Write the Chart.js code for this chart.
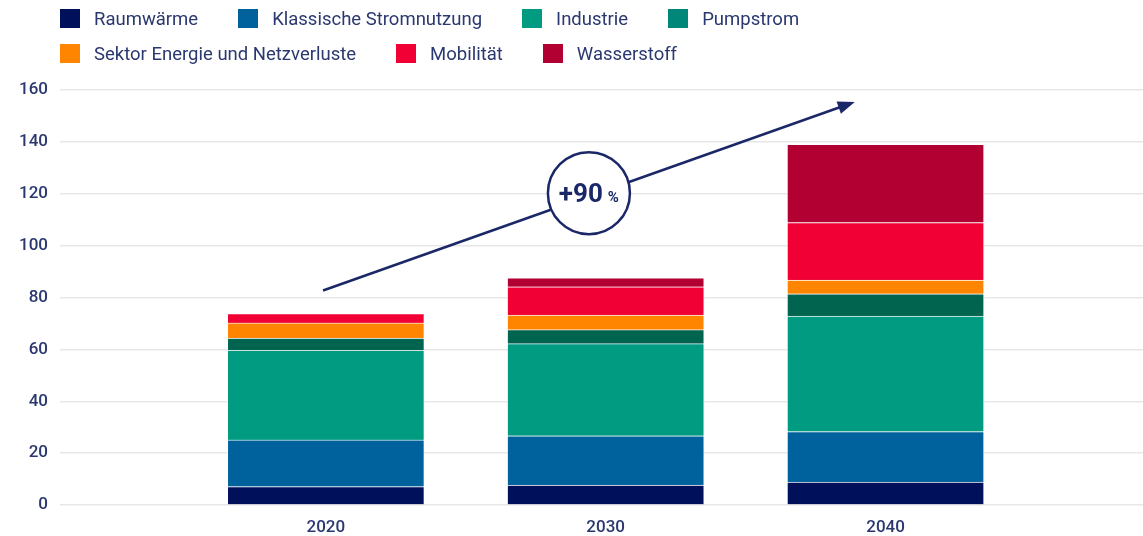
<!DOCTYPE html>
<html lang="de">
<head>
<meta charset="utf-8">
<title>Stromverbrauch nach Sektoren</title>
<script src="https://cdn.jsdelivr.net/npm/chart.js@4.4.1/dist/chart.umd.min.js"></script>
<style>
    html, body { margin: 0; padding: 0; background: #ffffff; }
    #wrap { position: relative; width: 1143px; height: 536px; overflow: hidden; }
    #chart { position: absolute; left: 0; top: 0; }
    #legend {
        position: absolute; left: 60px; top: 1px; width: 800px;
        display: flex; flex-wrap: wrap;
        font-family: Roboto, "Noto Sans", sans-serif; font-size: 18.5px; color: #2b3870;
    }
    .legend-item { display: flex; align-items: center; height: 35px; margin-right: 40px; white-space: nowrap; }
    .legend-box { width: 20px; height: 19px; margin-right: 14px; }
</style>
</head>
<body>
<div id="wrap">
    <canvas id="chart" width="1143" height="536"></canvas>
    <div id="legend"></div>
</div>
<script>
// Werte in TWh
const years = [2020, 2030, 2040];
const raumwaerme = [7.1, 7.7, 8.8];
const klassisch = [18.0, 19.0, 19.5];
const industrie = [34.5, 35.5, 44.5];
const pumpstrom = [4.8, 5.4, 8.6];
const sektorEnergie = [5.8, 5.6, 5.3];
const mobilitaet = [3.6, 10.9, 22.2];
const wasserstoff = [0, 3.5, 30.2];

const seriesNames = ['Raumwärme', 'Klassische Stromnutzung', 'Industrie', 'Pumpstrom',
    'Sektor Energie und Netzverluste', 'Mobilität', 'Wasserstoff'];
const seriesValues = [raumwaerme, klassisch, industrie, pumpstrom, sektorEnergie, mobilitaet, wasserstoff];

// Pfeil und Kreis "+90 %" in Achsenwerten (Jahr, TWh)
const arrowFrom = [2019.9, 82.7];
const arrowTo = [2038.9, 155.4];
const badgeAt = [2029.4, 120.2];
const badgeText = ['+90', '%'];

const barColors = ['#00105a', '#00629c', '#009b80', '#00644f', '#ff8500', '#f00034', '#b20032'];
const legendColors = ['#00105a', '#00629c', '#009b80', '#00877a', '#ff8500', '#f00034', '#b20032'];
const textColor = '#2b3870';
const navy = '#1b2868';

// HTML legend
const legendEl = document.getElementById('legend');
seriesNames.forEach((name, i) => {
    const item = document.createElement('div');
    item.className = 'legend-item';
    const box = document.createElement('span');
    box.className = 'legend-box';
    box.style.background = legendColors[i];
    const label = document.createElement('span');
    label.textContent = name;
    item.appendChild(box);
    item.appendChild(label);
    legendEl.appendChild(item);
});

// Draws the growth arrow with the circled percentage
const growthArrow = {
    id: 'growthArrow',
    afterDatasetsDraw(chart) {
        const { ctx, scales: { x, y } } = chart;
        const x0 = x.getPixelForValue(arrowFrom[0]);
        const y0 = y.getPixelForValue(arrowFrom[1]);
        const x1 = x.getPixelForValue(arrowTo[0]);
        const y1 = y.getPixelForValue(arrowTo[1]);
        const cx = x.getPixelForValue(badgeAt[0]);
        const cy = y.getPixelForValue(badgeAt[1]);
        const angle = Math.atan2(y1 - y0, x1 - x0);
        const headLen = 17;
        const headHalf = 6.5;

        ctx.save();
        ctx.strokeStyle = navy;
        ctx.fillStyle = navy;
        ctx.lineWidth = 2.5;

        // line, stopping at the arrow head
        ctx.beginPath();
        ctx.moveTo(x0, y0);
        ctx.lineTo(x1 - Math.cos(angle) * headLen * 0.8, y1 - Math.sin(angle) * headLen * 0.8);
        ctx.stroke();

        // head
        ctx.beginPath();
        ctx.moveTo(x1, y1);
        ctx.lineTo(x1 - Math.cos(angle) * headLen + Math.sin(angle) * headHalf,
                   y1 - Math.sin(angle) * headLen - Math.cos(angle) * headHalf);
        ctx.lineTo(x1 - Math.cos(angle) * headLen - Math.sin(angle) * headHalf,
                   y1 - Math.sin(angle) * headLen + Math.cos(angle) * headHalf);
        ctx.closePath();
        ctx.fill();

        // circle
        ctx.beginPath();
        ctx.arc(cx, cy, 41, 0, Math.PI * 2);
        ctx.fillStyle = '#ffffff';
        ctx.fill();
        ctx.lineWidth = 2.5;
        ctx.stroke();

        // text
        ctx.fillStyle = navy;
        ctx.textBaseline = 'alphabetic';
        ctx.font = 'bold 26px Roboto, sans-serif';
        const w1 = ctx.measureText(badgeText[0]).width;
        ctx.font = 'bold 15px Roboto, sans-serif';
        const w2 = ctx.measureText(badgeText[1]).width;
        const gap = 5;
        const start = cx - (w1 + gap + w2) / 2;
        ctx.font = 'bold 26px Roboto, sans-serif';
        ctx.fillText(badgeText[0], start, cy + 9);
        ctx.font = 'bold 15px Roboto, sans-serif';
        ctx.fillText(badgeText[1], start + w1 + gap, cy + 9);
        ctx.restore();
    }
};

const ctx = document.getElementById('chart').getContext('2d');
new Chart(ctx, {
    type: 'bar',
    data: {
        labels: years,
        datasets: seriesNames.map((name, i) => ({
            label: name,
            data: seriesValues[i],
            backgroundColor: barColors[i],
            borderColor: 'rgba(255, 255, 255, 0.55)',
            borderWidth: 1,
            barThickness: 197
        }))
    },
    options: {
        responsive: false,
        animation: false,
        layout: {
            padding: { top: 90, left: 0, right: 0, bottom: 0 }
        },
        plugins: {
            legend: { display: false },
            tooltip: { enabled: false }
        },
        scales: {
            x: {
                type: 'linear',
                stacked: true,
                min: 2010.5,
                max: 2049.2,
                offset: false,
                grid: { display: false },
                border: { display: false },
                afterBuildTicks: (scale) => {
                    scale.ticks = years.map(v => ({ value: v }));
                },
                afterFit: (scale) => { scale.height = 31; },
                ticks: {
                    padding: 5,
                    color: textColor,
                    font: { family: 'Roboto', size: 17, weight: '500' },
                    callback: (value) => String(value)
                }
            },
            y: {
                stacked: true,
                min: 0,
                max: 160,
                grid: {
                    color: '#e7e7e7',
                    lineWidth: 1.5,
                    drawTicks: false
                },
                border: { display: false },
                afterFit: (scale) => { scale.width = 60; },
                ticks: {
                    stepSize: 20,
                    padding: 12,
                    color: textColor,
                    font: { family: 'Roboto', size: 17, weight: '500' }
                }
            }
        }
    },
    plugins: [growthArrow]
});
</script>
</body>
</html>
